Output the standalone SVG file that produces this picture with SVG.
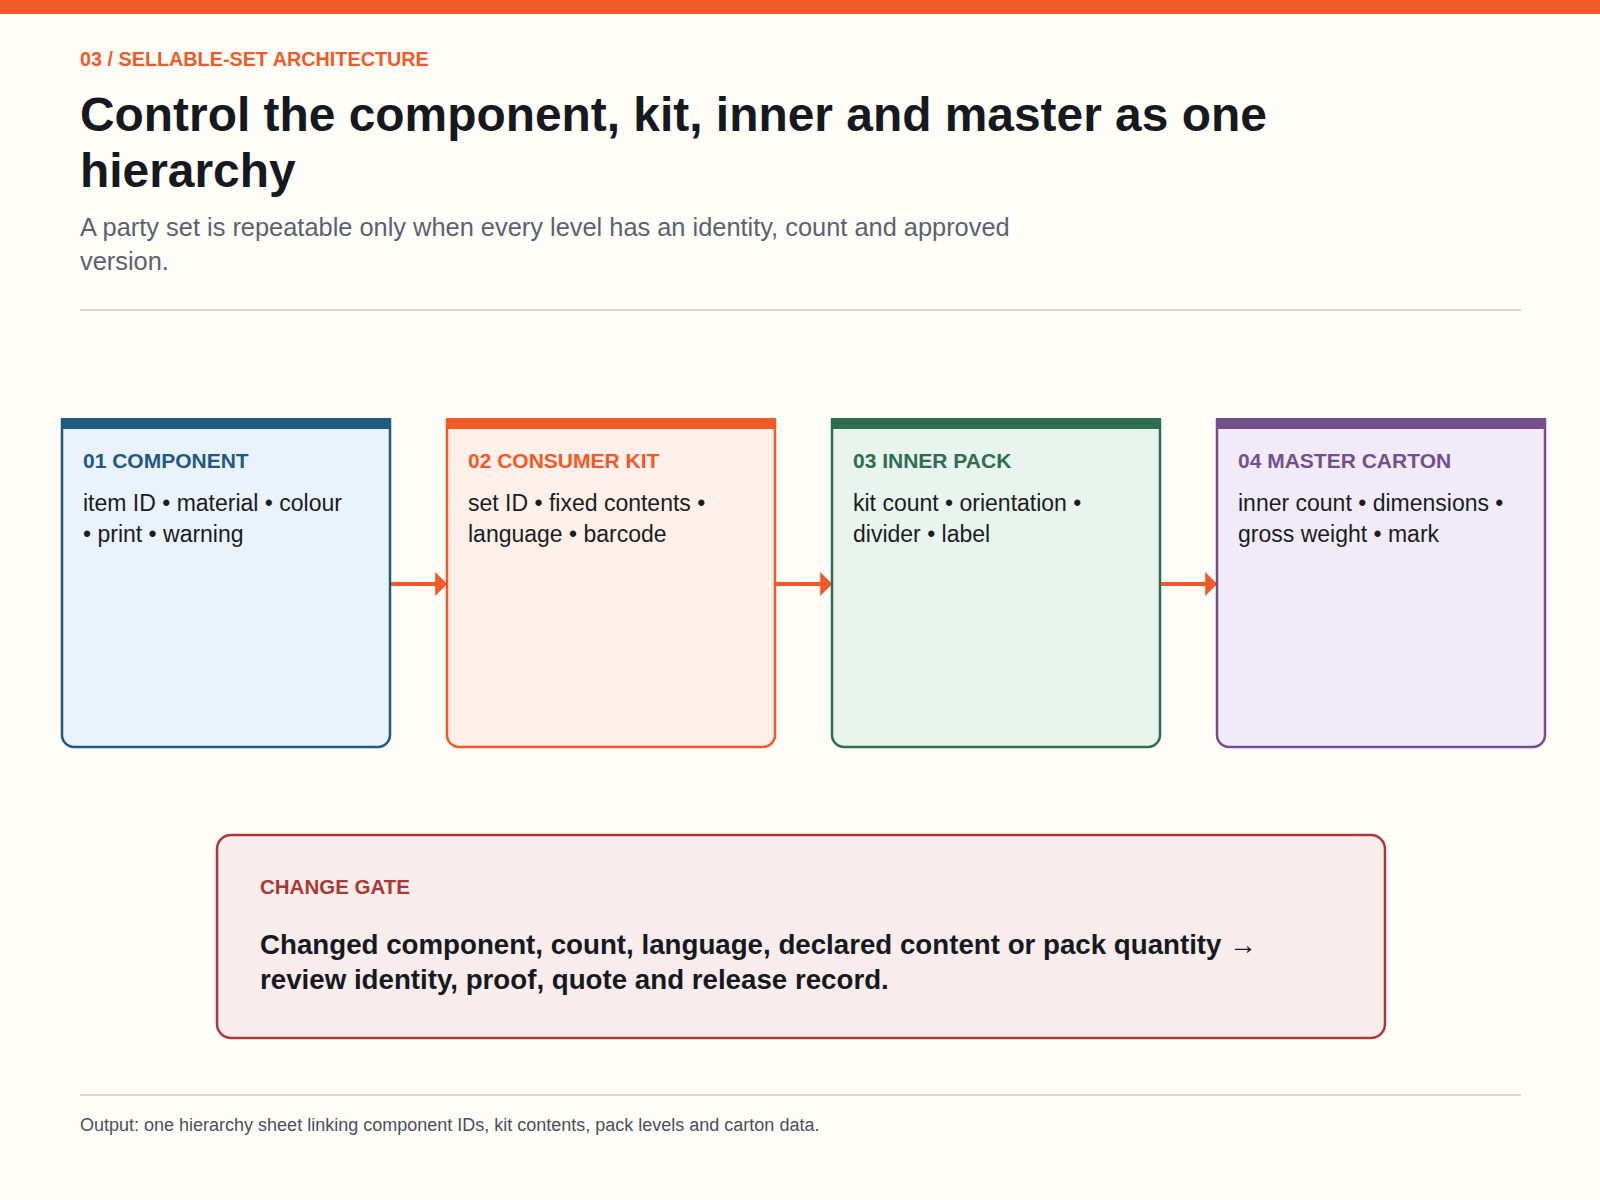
<svg xmlns="http://www.w3.org/2000/svg" width="1600" height="1200" viewBox="0 0 1600 1200">
<defs>
<style>
text{font-family:"Liberation Sans",Arial,sans-serif}
.h{font-size:21px;font-weight:bold}
.b{font-size:23px;fill:#1a1d22}
.con{stroke:#f05a28;stroke-width:4;fill:none}
</style>
<marker id="ah" viewBox="0 0 10 10" refX="9" refY="5" markerWidth="3" markerHeight="6" orient="auto" markerUnits="strokeWidth" preserveAspectRatio="none"><path d="M0,0L10,5L0,10Z" fill="#f05a28"/></marker>
</defs>
<rect width="1600" height="1200" fill="#fffdf8"/>
<rect width="1600" height="14" fill="#f05a28"/>
<text x="80" y="66" font-size="19.8" font-weight="bold" fill="#f05a28">03 / SELLABLE-SET ARCHITECTURE</text>
<text x="80" y="131" font-size="47.9" font-weight="bold" fill="#161a20">Control the component, kit, inner and master as one</text>
<text x="80" y="187" font-size="47.9" font-weight="bold" fill="#161a20">hierarchy</text>
<text x="80" y="236" font-size="25.4" fill="#5a6270">A party set is repeatable only when every level has an identity, count and approved</text>
<text x="80" y="270" font-size="25.4" fill="#5a6270">version.</text>
<line x1="80" y1="310" x2="1521" y2="310" stroke="#d6d6d2" stroke-width="2"/>
<g id="connectors">
<line class="con" x1="391" y1="584" x2="446" y2="584" marker-end="url(#ah)"/>
<line class="con" x1="776" y1="584" x2="831" y2="584" marker-end="url(#ah)"/>
<line class="con" x1="1161" y1="584" x2="1216" y2="584" marker-end="url(#ah)"/>
</g>
<g id="n1">
<path d="M62,420H390V735a12,12 0 0 1 -12,12H74a12,12 0 0 1 -12,-12Z" fill="#eaf2fb" stroke="#1f5a80" stroke-width="2.5"/>
<rect x="61" y="418" width="330" height="11" fill="#1f5a80"/>
<text x="83" y="468" class="h" fill="#1f5a80">01 COMPONENT</text>
<text x="83" y="511" class="b">item ID • material • colour</text>
<text x="83" y="542" class="b">• print • warning</text>
</g>
<g id="n2">
<path d="M447,420H775V735a12,12 0 0 1 -12,12H459a12,12 0 0 1 -12,-12Z" fill="#fdefe9" stroke="#f05a28" stroke-width="2.5"/>
<rect x="446" y="418" width="330" height="11" fill="#f05a28"/>
<text x="468" y="468" class="h" fill="#f05a28">02 CONSUMER KIT</text>
<text x="468" y="511" class="b">set ID • fixed contents •</text>
<text x="468" y="542" class="b">language • barcode</text>
</g>
<g id="n3">
<path d="M832,420H1160V735a12,12 0 0 1 -12,12H844a12,12 0 0 1 -12,-12Z" fill="#e9f4ee" stroke="#2e6e50" stroke-width="2.5"/>
<rect x="831" y="418" width="330" height="11" fill="#2e6e50"/>
<text x="853" y="468" class="h" fill="#2e6e50">03 INNER PACK</text>
<text x="853" y="511" class="b">kit count • orientation •</text>
<text x="853" y="542" class="b">divider • label</text>
</g>
<g id="n4">
<path d="M1217,420H1545V735a12,12 0 0 1 -12,12H1229a12,12 0 0 1 -12,-12Z" fill="#f1ebf8" stroke="#74508a" stroke-width="2.5"/>
<rect x="1216" y="418" width="330" height="11" fill="#74508a"/>
<text x="1238" y="468" class="h" fill="#74508a">04 MASTER CARTON</text>
<text x="1238" y="511" class="b">inner count • dimensions •</text>
<text x="1238" y="542" class="b">gross weight • mark</text>
</g>
<g id="gate">
<rect x="217" y="835" width="1168" height="203" rx="14" fill="#f9ecec" stroke="#a83a35" stroke-width="2.5"/>
<text x="260" y="894" font-size="20.5" font-weight="bold" fill="#a83a35">CHANGE GATE</text>
<text x="260" y="954" font-size="27.7" font-weight="bold" fill="#161a20">Changed component, count, language, declared content or pack quantity →</text>
<text x="260" y="989" font-size="27.7" font-weight="bold" fill="#161a20">review identity, proof, quote and release record.</text>
</g>
<line x1="80" y1="1095" x2="1521" y2="1095" stroke="#d6d6d2" stroke-width="2"/>
<text x="80" y="1131" font-size="18" fill="#4a505a">Output: one hierarchy sheet linking component IDs, kit contents, pack levels and carton data.</text>
</svg>
